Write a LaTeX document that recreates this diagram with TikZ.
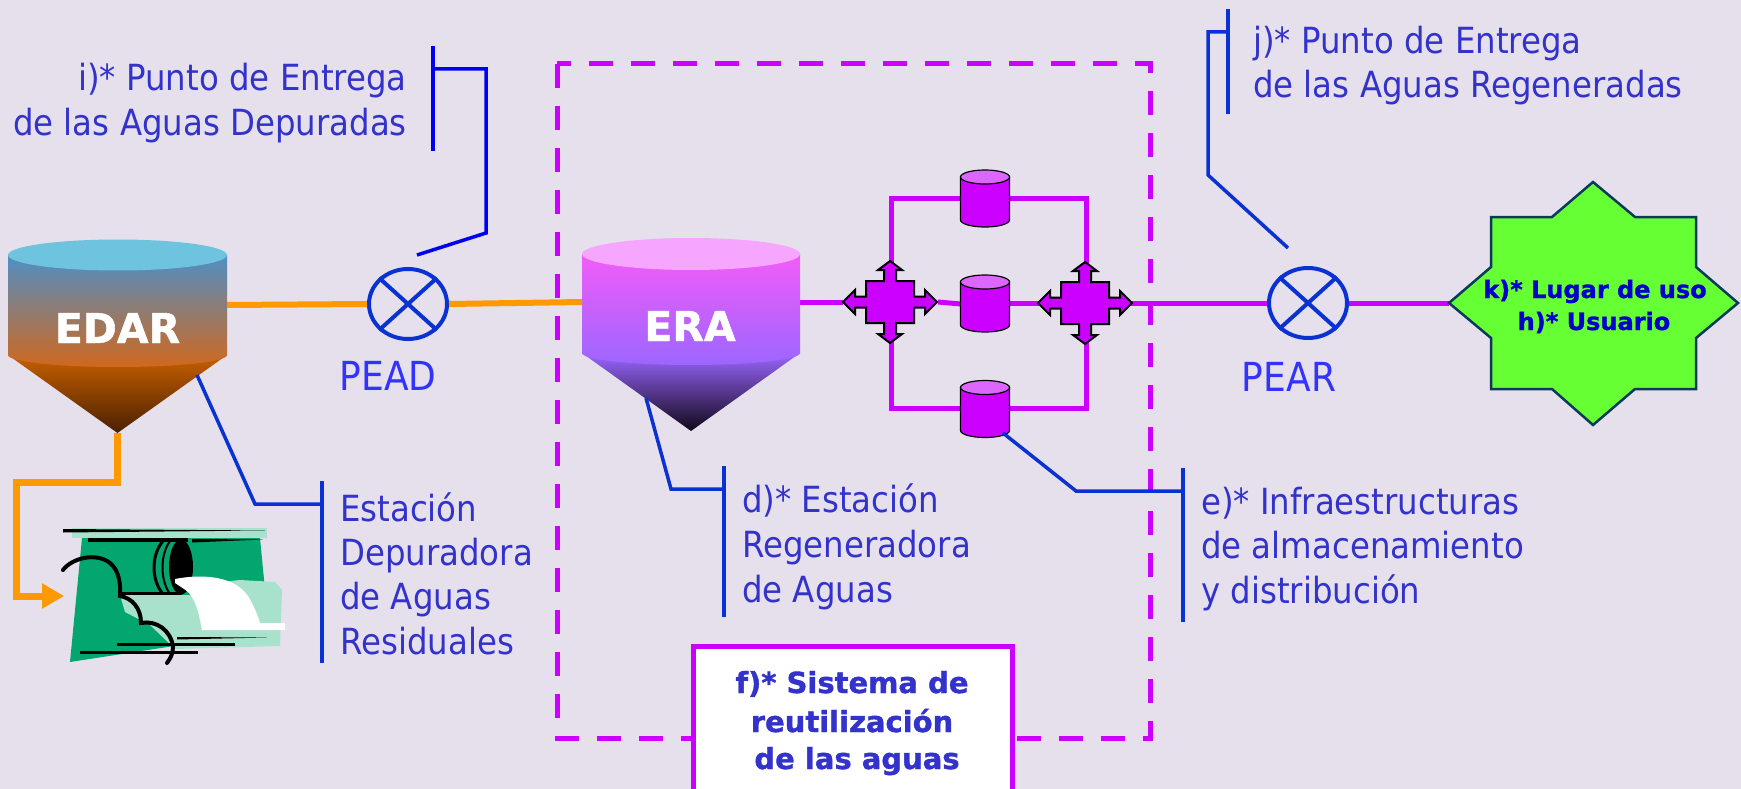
\documentclass[tikz,border=0pt]{standalone}
\usepackage{fontspec}
\setmainfont{DejaVu Sans}[FakeStretch=0.9]
\newfontfamily\boldsans{DejaVu Sans Bold}[FakeBold=1.2]
\usetikzlibrary{shapes.geometric,arrows.meta}
\definecolor{bg}{HTML}{E5E0EC}
\definecolor{orng}{HTML}{FF9900}
\definecolor{mag}{HTML}{CC00FF}
\definecolor{magtop}{HTML}{DD66FF}
\definecolor{lblblue}{HTML}{3333CC}
\definecolor{pblue}{HTML}{3333FF}
\definecolor{brkblue}{HTML}{0A32D2}
\definecolor{brkpure}{HTML}{0000F0}
\definecolor{starfill}{HTML}{66FF33}
\definecolor{starline}{HTML}{0A3A5A}
\definecolor{startext}{HTML}{0000CC}
\definecolor{edarTop}{HTML}{6EC3DF}
\definecolor{edarBodyT}{HTML}{4F8FC5}
\definecolor{edarBodyB}{HTML}{D0681E}
\definecolor{edarConeT}{HTML}{C86000}
\definecolor{edarConeB}{HTML}{4A2000}
\definecolor{eraTop}{HTML}{F7A6FF}
\definecolor{eraBodyT}{HTML}{F25CF8}
\definecolor{eraBodyB}{HTML}{9C66FF}
\definecolor{eraConeT}{HTML}{9A66FF}
\definecolor{eraConeB}{HTML}{100818}
\definecolor{dgreen}{HTML}{03A66E}
\definecolor{mint}{HTML}{A8E2CC}
\begin{document}
\begin{tikzpicture}[x=1pt,y=-1pt,
  lbl/.style={font=\fontsize{36}{44}\selectfont, text=lblblue, inner sep=0pt},
  plbl/.style={font=\fontsize{40}{48}\selectfont, text=pblue, inner sep=0pt, anchor=base},
  tanklbl/.style={font=\boldsans\fontsize{41}{50}\selectfont, text=white, inner sep=0pt, anchor=base},
  starlbl/.style={font=\boldsans\fontsize{24}{30}\selectfont, text=startext, inner sep=0pt, anchor=base},
  flbl/.style={font=\boldsans\fontsize{29}{38}\selectfont, text=lblblue, inner sep=0pt, anchor=base},
  brk/.style={draw=brkblue, line width=3.5pt},
  oline/.style={draw=orng, line width=6pt},
  mline/.style={draw=mag, line width=5pt},
  valve/.style={ellipse, draw=brkblue, line width=4pt, minimum width=78pt, minimum height=70pt, inner sep=0pt},
  qarr/.style={fill=mag, draw=black, line width=2pt, line join=miter},
  cylb/.style={fill=mag, draw=black, line width=1.2pt},
  cylt/.style={fill=magtop, draw=black, line width=1.2pt}
]
\useasboundingbox (0,0) rectangle (1741,789);
\fill[bg] (0,0) rectangle (1741,789);

% dashed system box
\draw[mag, line width=5pt, dash pattern=on 24pt off 18pt] (557,64) rectangle (1150,738);

% named points
\coordinate (edarR) at (227,305);
\coordinate (edarApex) at (117.5,433);
\coordinate (drainA) at (117.5,482);
\coordinate (drainB) at (16,482);
\coordinate (drainC) at (16,596);
\coordinate (drainEnd) at (64,596);
\coordinate (eraL) at (583,302);
\coordinate (eraR) at (800,302);
\coordinate (xlW) at (843,302);
\coordinate (xlE) at (938,302);
\coordinate (cmW) at (961,304);
\coordinate (cmE) at (1010,303);
\coordinate (xrW) at (1040,303);
\coordinate (xrE) at (1130,303);
\coordinate (starL) at (1449,303);

\node[valve] (pead) at (408,304) {};
\node[valve] (pear) at (1308,303) {};

% orange lines
\draw[oline] (edarR) -- (pead.west);
\draw[oline] (pead.east) -- (eraL);
\draw[draw=orng, line width=7pt, line join=miter, -{Triangle[length=22pt,width=24pt]}] (edarApex) -- (drainA) -- (drainB) -- (drainC) -- (drainEnd);

% magenta lines
\draw[mline] (891,198) rectangle (1086,408);
\draw[mline] (eraR) -- (xlW);
\draw[mline] (xlE) -- (cmW);
\draw[mline] (cmE) -- (xrW);
\draw[mline] (xrE) -- (pear.west);
\draw[mline] (pear.east) -- (starL);

% valve crosses
\foreach \v in {pead,pear}{
  \draw[brkblue, line width=4pt] (\v.north west) -- (\v.south east);
  \draw[brkblue, line width=4pt] (\v.north east) -- (\v.south west);
}

% EDAR tank
\shade[top color=edarConeT, bottom color=edarConeB] (8,355) -- (227,355) -- (edarApex) -- cycle;
\shade[top color=edarBodyT, bottom color=edarBodyB] (8,255) -- (8,355) arc[start angle=180, end angle=0, x radius=109.5, y radius=12] -- (227,255) -- cycle;
\fill[edarTop] (117.5,255) ellipse [x radius=109.5, y radius=15.5];
\node[tanklbl] (edar) at (117.5,343) {EDAR};

% ERA tank
\shade[top color=eraConeT, bottom color=eraConeB] (582,353) -- (800,353) -- (691,431) -- cycle;
\shade[top color=eraBodyT, bottom color=eraBodyB] (582,254) -- (582,353) arc[start angle=180, end angle=0, x radius=109, y radius=12] -- (800,254) -- cycle;
\fill[eraTop] (691,254) ellipse [x radius=109, y radius=16];
\node[tanklbl] (era) at (690,341) {ERA};

% storage cylinders
\foreach \cy in {198.5,303.5,409}{
  \begin{scope}[shift={(985,\cy)}]
    \draw[cylb] (-24.5,-21.5) -- (-24.5,21.5) arc[start angle=180, end angle=0, x radius=24.5, y radius=7] -- (24.5,-21.5) -- cycle;
    \draw[cylt] (0,-21.5) ellipse [x radius=24.5, y radius=7];
  \end{scope}
}

% four-way arrows
\foreach \cx/\cyy in {890/302,1085/303}{
  \begin{scope}[shift={(\cx,\cyy)}]
  \draw[qarr] (24,-5.5) -- (35,-5.5) -- (35,-12) -- (47,0) -- (35,12) -- (35,5.5) -- (24,5.5)
    -- (24,21) -- (6,21) -- (6,32) -- (12,32) -- (0,41) -- (-12,32) -- (-6,32) -- (-6,21)
    -- (-24,21) -- (-24,5.5) -- (-35,5.5) -- (-35,12) -- (-47,0) -- (-35,-12) -- (-35,-5.5) -- (-24,-5.5)
    -- (-24,-21) -- (-6,-21) -- (-6,-32) -- (-12,-32) -- (0,-41) -- (12,-32) -- (6,-32) -- (6,-21)
    -- (24,-21) -- cycle;
  \end{scope}
}

% star
\draw[fill=starfill, draw=starline, line width=2.5pt, line join=miter]
  (1449,303) -- (1491,267) -- (1491,217) -- (1552,217) -- (1593,182) -- (1635,217) -- (1696,217) -- (1696,267)
  -- (1738,303) -- (1696,338) -- (1696,389) -- (1635,389) -- (1593,425) -- (1552,389) -- (1491,389) -- (1491,338) -- cycle;
\node[starlbl] (k) at (1595,298) {k)* Lugar de uso};
\node[starlbl] (h) at (1594,330) {h)* Usuario};

% PEAD / PEAR labels
\node[plbl] (peadlbl) at (388,390) {PEAD};
\node[plbl] (pearlbl) at (1289,391) {PEAR};

% brackets
\coordinate (iTop) at (433,46); \coordinate (iBot) at (433,151);
\draw[draw=brkpure, line width=3.5pt] (iTop) -- (iBot);
\draw[draw=brkpure, line width=3.5pt] (433,69) -- (486,69) -- (486,233) -- (417,255);
\coordinate (jTop) at (1228,9); \coordinate (jBot) at (1228,114);
\draw[brk] (jTop) -- (jBot);
\draw[brk] (1228,32) -- (1208,32) -- (1208,175) -- (1288,248);
\draw[brk] (197,375) -- (255,504) -- (322,504);
\draw[brk] (322,481) -- (322,663);
\draw[brk] (646,398) -- (671,489) -- (724,489);
\draw[brk] (724,466) -- (724,617);
\draw[brk] (1003,433) -- (1076,491) -- (1183,491);
\draw[brk] (1183,468) -- (1183,622);

% labels
\node[lbl, anchor=base east] (i1) at (407,91) {i)* Punto de Entrega};
\node[lbl, anchor=base east] (i2) at (407,136) {de las Aguas Depuradas};
\node[lbl, anchor=base west] (j1) at (1253,54) {j)* Punto de Entrega};
\node[lbl, anchor=base west] (j2) at (1253,98) {de las Aguas Regeneradas};
\node[lbl, anchor=base west] (s1) at (340,521) {Estación};
\node[lbl, anchor=base west] (s2) at (340,565) {Depuradora};
\node[lbl, anchor=base west] (s3) at (340,609) {de Aguas};
\node[lbl, anchor=base west] (s4) at (340,654) {Residuales};
\node[lbl, anchor=base west] (d1) at (742,512) {d)* Estación};
\node[lbl, anchor=base west] (d2) at (742,557) {Regeneradora};
\node[lbl, anchor=base west] (d3) at (742,602) {de Aguas};
\node[lbl, anchor=base west] (e1) at (1201,514) {e)* Infraestructuras};
\node[lbl, anchor=base west] (e2) at (1201,558) {de almacenamiento};
\node[lbl, anchor=base west] (e3) at (1201,603) {y distribución};

% f box
\draw[fill=white, draw=mag, line width=5pt] (693,646) rectangle (1012,800);
\node[flbl] (f1) at (852,693) {f)* Sistema de};
\node[flbl] (f2) at (852,732) {reutilización};
\node[flbl] (f3) at (857,769) {de las aguas};

% clip art (outfall)
\fill[mint] (72,528) rectangle (267,538);
\fill[black] (63,529) -- (265,530.5) -- (63,532.5) -- cycle;
\fill[dgreen] (82,538) -- (260,538) -- (266,600) -- (200,642) -- (70,662) -- cycle;
\fill[mint] (120,595) -- (192,595) .. controls (220,582) .. (240,580) -- (275,582) -- (282,590) -- (280,646) -- (175,649) -- (150,625) -- (125,612) -- cycle;
\draw[black, line width=4pt] (88,540) -- (188,540);
\fill[black] (192,539) -- (263,539.5) -- (192,542.5) -- cycle;
\draw[black, line width=3pt] (120,593.5) -- (182,593.5);
\draw[black, line width=3pt] (163,541) .. controls (151,555) and (151,580) .. (163,594);
\draw[black, line width=2pt] (170,541) .. controls (160,555) and (160,580) .. (170,594);
\fill[black] (181,567) ellipse [x radius=12, y radius=27.5];
\fill[white] (175,579) .. controls (195,575) and (232,573) .. (248,596) .. controls (255,608) and (258,616) .. (260,623) -- (285,623) -- (285,630) -- (202,630) .. controls (199,614) and (196,600) .. (188,592) .. controls (183,588) and (178,585) .. (175,583) -- cycle;
\draw[black, line width=4pt, line cap=round] (63,570) .. controls (72,558) and (96,552) .. (110,563) .. controls (119,570) and (121,585) .. (120,596) .. controls (132,598) and (141,608) .. (141,623) .. controls (156,620) and (171,630) .. (173,647) .. controls (173,654) and (170,659) .. (167,663);
\fill[black] (177,637) -- (267,637.5) -- (177,639.5) -- cycle;
\draw[black, line width=3pt] (117,644) -- (235,644);
\draw[black, line width=3pt] (80,652) -- (198,652);
\end{tikzpicture}
\end{document}
